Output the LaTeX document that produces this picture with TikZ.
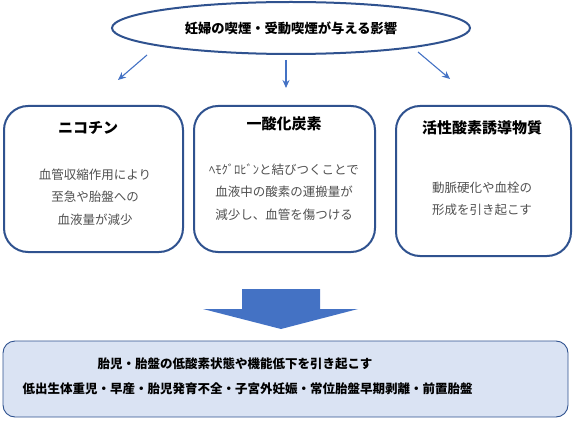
\documentclass[tikz,border=0pt]{standalone}
\usepackage{fontspec}
\newfontfamily\jp{Noto Sans CJK JP}
\usetikzlibrary{arrows.meta,shapes.geometric}
\definecolor{bord}{HTML}{2F528F}
\definecolor{arr}{HTML}{4472C4}
\definecolor{fillb}{HTML}{DAE3F3}
\definecolor{bodyt}{HTML}{505050}
\tikzset{
  cbox/.style={draw=bord,line width=2pt,rounded corners=24pt,fill=white},
  ttl/.style={font=\jp\bfseries\fontsize{15}{18}\selectfont,text=black},
  bodytxt/.style={font=\jp\fontsize{12.5}{22.5}\selectfont,text=bodyt,align=center},
  smarr/.style={draw=arr,line width=1.1pt,-{Stealth[length=8pt,width=7pt]}},
  btxt/.style={font=\jp\bfseries\fontsize{12.5}{15}\selectfont,text=black,anchor=west}
}
\begin{document}
\begin{tikzpicture}[x=1pt,y=-1pt]
\useasboundingbox (0,0) rectangle (577,422);
% top ellipse
\node[ellipse,draw=bord,line width=2pt,minimum width=358pt,minimum height=52pt,inner sep=0pt,
      font=\jp\bfseries\fontsize{13.3}{15}\selectfont] (el) at (291,28) {妊婦の喫煙・受動喫煙が与える影響};
% small arrows
\coordinate (s1) at (147,55); \coordinate (t1) at (118,80);
\coordinate (s2) at (286,60); \coordinate (t2) at (286,88);
\coordinate (s3) at (418,52); \coordinate (t3) at (450,79);
\draw[smarr] (s1) -- (t1);
\draw[smarr] (s2) -- (t2);
\draw[smarr] (s3) -- (t3);
% three boxes
\draw[cbox] (4,106) rectangle (183,252);
\draw[cbox] (194,106) rectangle (375,252);
\draw[cbox] (396,106) rectangle (571,256);
\node[ttl] (t_a) at (88,128) {ニコチン};
\node[ttl] (t_b) at (284,124) {一酸化炭素};
\node[ttl] (t_c) at (482,128) {活性酸素誘導物質};
\node[bodytxt] (b_a) at (95,197) {血管収縮作用により\\至急や胎盤への\\血液量が減少};
\node[bodytxt] (b_b) at (284,192) {ﾍﾓｸﾞﾛﾋﾞﾝと結びつくことで\\血液中の酸素の運搬量が\\減少し、血管を傷つける};
\node[bodytxt] (b_c) at (482,199) {動脈硬化や血栓の\\形成を引き起こす};
% big arrow
\fill[arr] (242,289) -- (320,289) -- (320,309) -- (358,309) -- (281,329) -- (203,309) -- (242,309) -- cycle;
% bottom box
\draw[draw=bord,line width=0.9pt,fill=fillb,rounded corners=12pt] (3,341) rectangle (568,417);
\node[btxt] (l1) at (94,364) {胎児・胎盤の低酸素状態や機能低下を引き起こす};
\node[btxt] (l2) at (19,389) {低出生体重児・早産・胎児発育不全・子宮外妊娠・常位胎盤早期剥離・前置胎盤};
\end{tikzpicture}
\end{document}
